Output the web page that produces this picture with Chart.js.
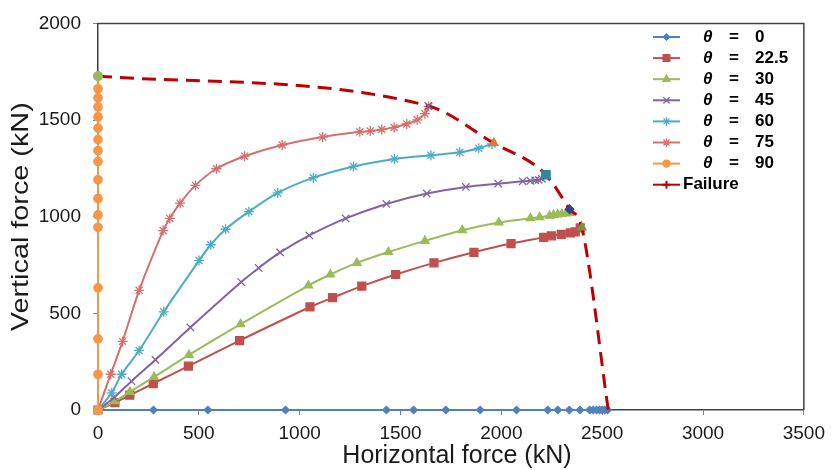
<!DOCTYPE html>
<html>
<head>
<meta charset="utf-8">
<script src="https://cdn.jsdelivr.net/npm/chart.js@4.4.0/dist/chart.umd.min.js"></script>
<style>
  html, body { margin: 0; padding: 0; background: #ffffff; }
  canvas { display: block; }
</style>
</head>
<body>
<canvas id="chart" width="832" height="470"></canvas>
<script>
// Axis ticks (kN)
const xTickValues = [0, 500, 1000, 1500, 2000, 2500, 3000, 3500];
const yTickValues = [0, 500, 1000, 1500, 2000];

// Load paths: horizontal force H and vertical force V (kN) for each load angle theta
const theta0H = [0, 275, 545, 930, 1430, 1565, 1725, 1895, 2075, 2230, 2280, 2337, 2390, 2438, 2455, 2472, 2487, 2500, 2513, 2527];
const theta0V = [0, 0, 0, 0, 0, 0, 0, 0, 0, 0, 0, 0, 0, 0, 0, 0, 0, 0, 0, 0];

const theta225H = [0, 84, 158, 274, 448, 702, 1051, 1163, 1308, 1476, 1666, 1864, 2048, 2210, 2248, 2297, 2342, 2366, 2391];
const theta225V = [0, 38, 77, 137, 227, 359, 533, 581, 641, 701, 761, 816, 861, 893, 901, 908, 916, 921, 942];

const theta30H = [0, 84, 158, 278, 451, 707, 1043, 1152, 1284, 1440, 1621, 1806, 1987, 2144, 2190, 2239, 2259, 2280, 2300, 2322, 2338];
const theta30V = [0, 46, 94, 171, 285, 444, 644, 701, 761, 817, 875, 930, 970, 992, 997, 1005, 1009, 1012, 1014, 1017, 1019];

const theta45H = [0, 80, 166, 285, 458, 710, 797, 903, 1048, 1228, 1430, 1630, 1824, 1984, 2106, 2144, 2168, 2185, 2201, 2221];
const theta45V = [0, 65, 149, 260, 427, 662, 735, 815, 903, 991, 1066, 1120, 1154, 1171, 1183, 1186, 1188, 1191, 1196, 1205];

const theta60H = [0, 68, 117, 204, 326, 501, 559, 633, 748, 891, 1068, 1267, 1470, 1651, 1794, 1888, 1954];
const theta60V = [0, 89, 185, 308, 508, 773, 855, 935, 1026, 1123, 1202, 1260, 1299, 1318, 1333, 1354, 1376];

const theta75H = [0, 63, 122, 204, 323, 356, 407, 483, 587, 727, 913, 1114, 1298, 1350, 1407, 1468, 1531, 1583, 1621, 1640];
const theta75V = [0, 185, 355, 619, 928, 991, 1070, 1162, 1248, 1313, 1371, 1412, 1439, 1443, 1451, 1462, 1480, 1501, 1533, 1570];

const theta90H = [0, 0, 0, 0, 0, 0, 0, 0, 0, 0, 0, 0, 0, 0, 0, 0, 0];
const theta90V = [0, 185, 368, 632, 945, 1009, 1094, 1191, 1285, 1342, 1399, 1458, 1516, 1568, 1615, 1662, 1727];

// Failure envelope
const failureH = [0, 1638, 1962, 2221, 2338, 2399, 2530];
const failureV = [1727, 1573, 1381, 1217, 1039, 944, 0];

const seriesLabels = ['0', '22.5', '30', '45', '60', '75', '90'];

const toPoints = (xs, ys) => xs.map((x, i) => ({ x: x, y: ys[i] }));

const FONT = '"Liberation Sans", Arial, sans-serif';
const TEXT = '#1a1a1a';

// marker look at each end point on the envelope
const endMarkerColors = ['#9BBB59', '#8064A2', '#E2792E', '#31859C', '#3B3F86', '#77933C', 'rgba(0,0,0,0)'];
const endMarkerStyles = ['circle', 'crossRot', 'triangle', 'rect', 'rectRot', 'triangle', 'circle'];
const endMarkerRadius = [4.2, 5.2, 4.6, 5.8, 4.2, 4.6, 0];

const seriesStyle = [
  { color: '#4F81BD', point: 'rectRot', radius: 3.7 },
  { color: '#C0504D', point: 'rect', radius: 5.6 },
  { color: '#9BBB59', point: 'triangle', radius: 4.8 },
  { color: '#8064A2', point: 'crossRot', radius: 5.2 },
  { color: '#4BACC6', point: 'star', radius: 5 },
  { color: '#D4706D', point: 'star', radius: 5 },
  { color: '#F79646', point: 'circle', radius: 4.2 }
];

const seriesData = [
  toPoints(theta0H, theta0V),
  toPoints(theta225H, theta225V),
  toPoints(theta30H, theta30V),
  toPoints(theta45H, theta45V),
  toPoints(theta60H, theta60V),
  toPoints(theta75H, theta75V),
  toPoints(theta90H, theta90V)
];

const datasets = seriesData.map((pts, i) => ({
  label: 'θ = ' + seriesLabels[i],
  data: pts,
  showLine: true,
  borderColor: seriesStyle[i].color,
  backgroundColor: seriesStyle[i].color,
  pointBorderColor: seriesStyle[i].color,
  pointBackgroundColor: seriesStyle[i].color,
  pointStyle: seriesStyle[i].point,
  pointRadius: seriesStyle[i].radius,
  pointBorderWidth: 1.3,
  borderWidth: 2,
  tension: 0.3,
  clip: false,
  order: 20 - i
}));

datasets.push({
  label: 'Failure',
  data: toPoints(failureH, failureV),
  showLine: true,
  borderColor: '#C00000',
  backgroundColor: '#C00000',
  borderWidth: 3,
  borderDash: [14, 8],
  pointRadius: 0,
  cubicInterpolationMode: 'monotone',
  clip: false,
  order: 5
});

datasets.push({
  label: 'envelope points',
  data: toPoints(failureH, failureV),
  showLine: false,
  pointStyle: endMarkerStyles,
  pointRadius: endMarkerRadius,
  pointBorderWidth: 1.5,
  pointBackgroundColor: endMarkerColors,
  pointBorderColor: endMarkerColors,
  clip: false,
  order: 1
});

// plot-area frame (top and right edges)
const frame = {
  id: 'frame',
  beforeDatasetsDraw(chart) {
    const { ctx, chartArea: a } = chart;
    ctx.save();
    ctx.strokeStyle = '#404040';
    ctx.lineWidth = 1.5;
    ctx.beginPath();
    ctx.moveTo(a.left, a.top);
    ctx.lineTo(a.right, a.top);
    ctx.lineTo(a.right, a.bottom);
    ctx.stroke();
    ctx.restore();
  }
};

// axis titles; the vertical one is elongated along its reading direction
const axisTitles = {
  id: 'axisTitles',
  afterDraw(chart) {
    const { ctx, chartArea: a } = chart;
    ctx.save();
    ctx.fillStyle = TEXT;
    ctx.textAlign = 'center';
    ctx.textBaseline = 'middle';
    ctx.font = '25px ' + FONT;
    ctx.fillText('Horizontal force (kN)', (a.left + a.right) / 2 + 6, 456);
    ctx.translate(21, (a.top + a.bottom) / 2);
    ctx.rotate(-Math.PI / 2);
    ctx.scale(1.2, 1);
    ctx.font = '24px ' + FONT;
    ctx.fillText('Vertical force (kN)', 0, 0);
    ctx.restore();
  }
};

// legend drawn inside the plot area, upper right
const insideLegend = {
  id: 'insideLegend',
  afterDraw(chart) {
    const ctx = chart.ctx;
    const x0 = 653, x1 = 680, xm = 666.5;
    const top = 37, step = 21.1;
    ctx.save();
    ctx.textBaseline = 'middle';
    seriesStyle.forEach((s, i) => {
      const y = top + i * step;
      ctx.strokeStyle = s.color;
      ctx.lineWidth = 2;
      ctx.beginPath();
      ctx.moveTo(x0, y);
      ctx.lineTo(x1, y);
      ctx.stroke();
      ctx.fillStyle = s.color;
      ctx.lineWidth = 1.3;
      Chart.helpers.drawPoint(ctx, { pointStyle: s.point, radius: s.radius * 0.85, rotation: 0, borderWidth: 1.3 }, xm, y);
      ctx.fillStyle = '#000';
      ctx.textAlign = 'left';
      ctx.font = 'italic bold 17px ' + FONT;
      ctx.fillText('θ', 703, y);
      ctx.font = 'bold 17px ' + FONT;
      ctx.fillText('=', 729, y);
      ctx.fillText(seriesLabels[i], 755, y);
    });
    const yf = top + 7 * step;
    ctx.strokeStyle = '#C00000';
    ctx.fillStyle = '#C00000';
    ctx.lineWidth = 2;
    ctx.beginPath();
    ctx.moveTo(x0, yf);
    ctx.lineTo(x1, yf);
    ctx.stroke();
    Chart.helpers.drawPoint(ctx, { pointStyle: 'cross', radius: 4, rotation: 0, borderWidth: 1.5 }, xm, yf);
    ctx.fillStyle = '#000';
    ctx.font = 'bold 17px ' + FONT;
    ctx.fillText('Failure', 683, yf);
    ctx.restore();
  }
};

const plainTick = v => String(v);

new Chart(document.getElementById('chart'), {
  type: 'scatter',
  data: { datasets: datasets },
  plugins: [frame, axisTitles, insideLegend],
  options: {
    responsive: false,
    animation: false,
    devicePixelRatio: 1,
    layout: { padding: { left: 0, right: 26, top: 20, bottom: 0 } },
    plugins: {
      legend: { display: false },
      tooltip: { enabled: false }
    },
    scales: {
      x: {
        type: 'linear',
        min: 0,
        max: 3500,
        afterBuildTicks: s => { s.ticks = xTickValues.map(v => ({ value: v })); },
        afterFit: s => { s.height = 60; },
        grid: { drawOnChartArea: false, drawTicks: true, tickLength: 5, color: '#808080' },
        border: { display: true, color: '#404040', width: 1.5 },
        ticks: { color: TEXT, font: { family: FONT, size: 19 }, padding: 7, maxRotation: 0, callback: plainTick },
        title: { display: false }
      },
      y: {
        type: 'linear',
        min: 0,
        max: 2000,
        afterBuildTicks: s => { s.ticks = yTickValues.map(v => ({ value: v })); },
        afterFit: s => { s.width = 98; },
        grid: { drawOnChartArea: false, drawTicks: true, tickLength: 5, color: '#808080' },
        border: { display: true, color: '#404040', width: 1.5 },
        ticks: { color: TEXT, font: { family: FONT, size: 19 }, padding: 12, callback: plainTick },
        title: { display: false }
      }
    }
  }
});
</script>
</body>
</html>
